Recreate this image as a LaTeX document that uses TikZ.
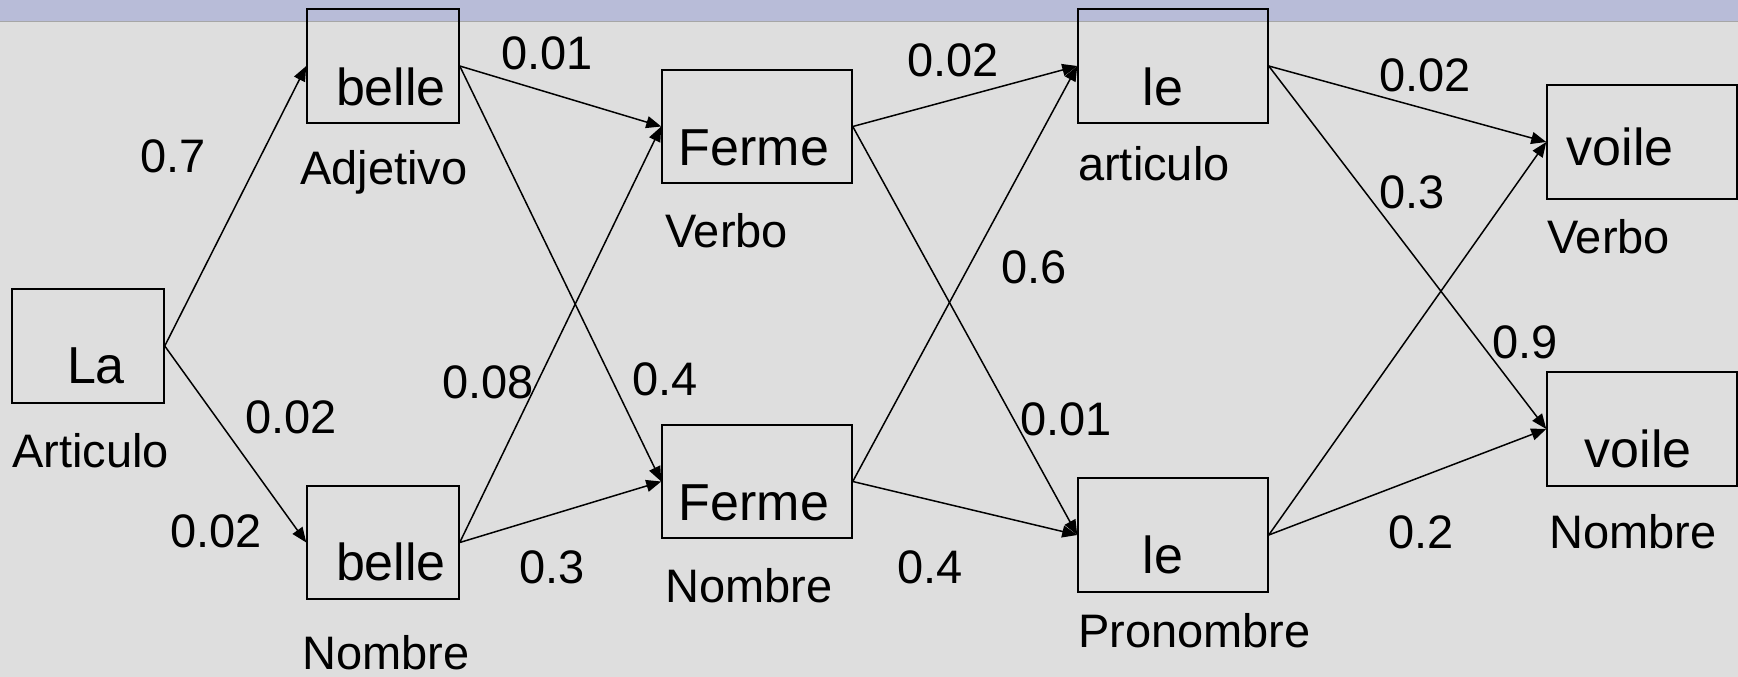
\documentclass[tikz,border=0pt]{standalone}
\usepackage{fontspec}
\setmainfont{Liberation Sans}
\usetikzlibrary{arrows.meta}
\definecolor{bg}{RGB}{222,222,222}
\definecolor{band}{RGB}{184,188,216}
\begin{document}
\begin{tikzpicture}[x=1pt,y=-1pt,
  box/.style={draw=black, line width=1.5pt, inner sep=0pt, minimum height=114pt, minimum width=190pt},
  word/.style={font=\fontsize{52}{60}\selectfont, anchor=base, inner sep=0pt},
  lab/.style={font=\fontsize{47}{56}\selectfont, anchor=base west, inner sep=0pt},
  arr/.style={line width=1.5pt, -{Triangle[length=15pt,width=12pt]}}]
\useasboundingbox (0,0) rectangle (1738,677);
\fill[bg] (0,0) rectangle (1738,677);
\fill[band] (0,0) rectangle (1738,22);
\draw[gray!70, line width=1pt] (0,22) -- (1738,22);
% boxes
\node[box, minimum width=152pt] (la) at (88,346) {};
\node[word] (tla) at (96,383) {La};
\node[box, minimum width=152pt] (b1) at (383,66) {};
\node[word] (tb1) at (391,106) {belle};
\node[box, minimum width=152pt, minimum height=113pt] (b2) at (383,542.5) {};
\node[word] (tb2) at (391,580) {belle};
\node[box, minimum height=113pt] (f1) at (757,126.5) {};
\node[word] (tf1) at (754,165) {Ferme};
\node[box, minimum height=113pt] (f2) at (757,481.5) {};
\node[word] (tf2) at (754,520) {Ferme};
\node[box] (l1) at (1173,66) {};
\node[word] (tl1) at (1163,106) {le};
\node[box] (l2) at (1173,535) {};
\node[word] (tl2) at (1163,573) {le};
\node[box] (v1) at (1642,142) {};
\node[word] (tv1) at (1620,165) {voile};
\node[box] (v2) at (1642,429) {};
\node[word] (tv2) at (1638,467) {voile};
% category labels
\node[lab] (c1) at (12,467) {Articulo};
\node[lab] (c2) at (300,184) {Adjetivo};
\node[lab] (c3) at (302,669) {Nombre};
\node[lab] (c4) at (665,247) {Verbo};
\node[lab] (c5) at (665,602) {Nombre};
\node[lab] (c6) at (1078,180) {articulo};
\node[lab] (c7) at (1078,647) {Pronombre};
\node[lab] (c8) at (1547,253) {Verbo};
\node[lab] (c9) at (1549,548) {Nombre};
% probabilities
\node[lab] (p1) at (140,172) {0.7};
\node[lab] (p2) at (245,433) {0.02};
\node[lab] (p3) at (170,547) {0.02};
\node[lab] (p4) at (501,70) {0.01};
\node[lab] (p5) at (442,398) {0.08};
\node[lab] (p6) at (519,583) {0.3};
\node[lab] (p7) at (632,395) {0.4};
\node[lab] (p8) at (907,77) {0.02};
\node[lab] (p9) at (1001,283) {0.6};
\node[lab] (p10) at (1020,435) {0.01};
\node[lab] (p11) at (897,583) {0.4};
\node[lab] (p12) at (1379,92) {0.02};
\node[lab] (p13) at (1379,208) {0.3};
\node[lab] (p14) at (1492,358) {0.9};
\node[lab] (p15) at (1388,548) {0.2};
% connectors
\draw[arr] (la.east) -- (b1.west);
\draw[arr] (la.east) -- (b2.west);
\draw[arr] (b1.east) -- (f1.west);
\draw[arr] (b1.east) -- (f2.west);
\draw[arr] (b2.east) -- (f1.west);
\draw[arr] (b2.east) -- (f2.west);
\draw[arr] (f1.east) -- (l1.west);
\draw[arr] (f1.east) -- (l2.west);
\draw[arr] (f2.east) -- (l1.west);
\draw[arr] (f2.east) -- (l2.west);
\draw[arr] (l1.east) -- (v1.west);
\draw[arr] (l1.east) -- (v2.west);
\draw[arr] (l2.east) -- (v1.west);
\draw[arr] (l2.east) -- (v2.west);
\end{tikzpicture}
\end{document}
